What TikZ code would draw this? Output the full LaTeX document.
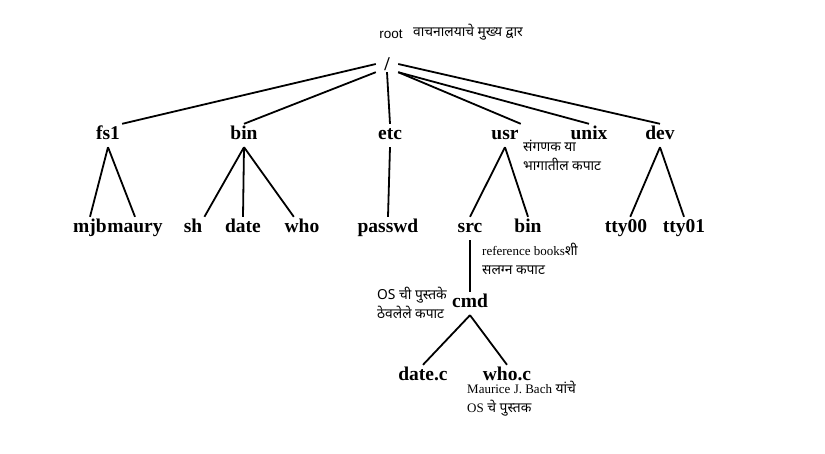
\documentclass[tikz,border=0pt]{standalone}
\usepackage{fontspec}
\setmainfont{Liberation Serif}
\newfontfamily\devafont[Script=Devanagari]{Noto Sans}
\newfontfamily\arialfont{Liberation Sans}
\usetikzlibrary{positioning}

\tikzset{
  dir/.style={font=\bfseries\fontsize{19.5}{20}\selectfont, anchor=base,
    text height=13pt, text depth=6pt, inner sep=2pt},
  remark/.style={font=\devafont\fontsize{13.8}{19}\selectfont, align=left,
    anchor=west, inner sep=0pt},
  edge/.style={line width=1.8pt}
}
\newcommand{\latintxt}[1]{{\rmfamily\fontsize{13}{19}\selectfont #1}}

\begin{document}
\begin{tikzpicture}[x=1pt, y=-1pt]
    \useasboundingbox (0,0) rectangle (825,453);

    % root of the tree
    \node[font=\arialfont\fontsize{13.5}{14}\selectfont, anchor=base] (rootlbl) at (391,38) {root};
    \node[remark] (doornote) at (413,32) {वाचनालयाचे मुख्य द्वार};
    \node[font=\bfseries\fontsize{19.5}{20}\selectfont, minimum width=22pt,
      minimum height=16pt, inner sep=0pt] (slash) at (387,64) {/};

    % first level
    \node[dir] (fs1) at (108,139) {fs1};
    \node[dir] (bin) at (244,139) {bin};
    \node[dir] (etc) at (390,139) {etc};
    \node[dir] (usr) at (505,139) {usr};
    \node[dir] (unix) at (589,139) {unix};
    \node[dir] (dev) at (660,139) {dev};

    \draw[edge] (slash.west) -- (fs1.north east);
    \draw[edge] (slash.south west) -- (bin.north);
    \draw[edge] (slash.south) -- (etc.north);
    \draw[edge] (slash.south east) -- (usr.north east);
    \draw[edge] (slash.south east) -- (unix.north);
    \draw[edge] (slash.east) -- (dev.north);

    % second level
    \node[dir] (mjb) at (90,232) {mjb};
    \node[dir] (maury) at (135,232) {maury};
    \node[dir] (sh) at (193,232) {sh};
    \node[dir] (date) at (243,232) {date};
    \node[dir] (who) at (302,232) {who};
    \node[dir] (passwd) at (388,232) {passwd};
    \node[dir] (src) at (470,232) {src};
    \node[dir] (usrbin) at (528,232) {bin};
    \node[dir] (tty00) at (626,232) {tty00};
    \node[dir] (tty01) at (684,232) {tty01};

    \draw[edge] (fs1.south) -- (mjb.north);
    \draw[edge] (fs1.south) -- (maury.north);
    \draw[edge] (bin.south) -- (sh.north east);
    \draw[edge] (bin.south) -- (date.north);
    \draw[edge] (bin.south) -- (who.125);
    \draw[edge] (etc.south) -- (passwd.north);
    \draw[edge] (usr.south) -- (src.north);
    \draw[edge] (usr.south) -- (usrbin.north);
    \draw[edge] (dev.south) -- (tty00.70);
    \draw[edge] (dev.south) -- (tty01.north);

    % source branch
    \node[dir] (cmd) at (470,307) {cmd};
    \node[dir] (datec) at (423,380) {date.c};
    \node[dir] (whoc) at (507,380) {who.c};

    \draw[edge] (src.south) -- (cmd.north);
    \draw[edge] (cmd.south) -- (datec.north);
    \draw[edge] (cmd.south) -- (whoc.north);

    % notes
    \node[remark] (usrnote) at (523,155) {संगणक या\\भागातील कपाट};
    \node[remark] (refnote) at (482,259) {\latintxt{reference books}शी\\सलग्न कपाट};
    \node[remark] (osnote) at (377,303) {OS ची पुस्तके\\ठेवलेले कपाट};
    \node[remark] (bachnote) at (467,399) {\latintxt{Maurice J. Bach} यांचे\\\latintxt{OS} चे पुस्तक};
\end{tikzpicture}
\end{document}
